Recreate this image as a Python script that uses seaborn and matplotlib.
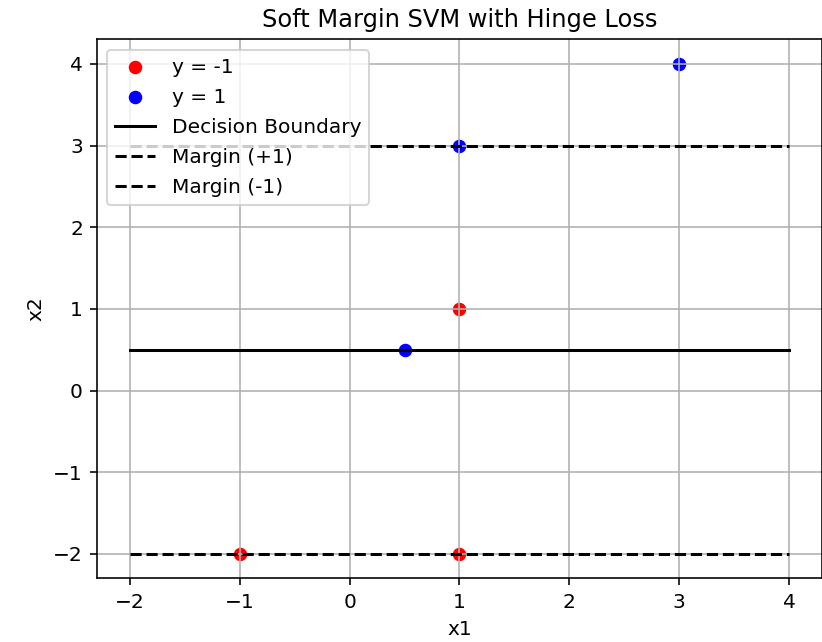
import matplotlib
matplotlib.use("Agg")
import matplotlib.pyplot as plt
import seaborn as sns

# data
neg_x1 = [-1, 1, 1]
neg_x2 = [-2, -2, 1]
pos_x1 = [0.5, 1, 3]
pos_x2 = [0.5, 3, 4]
line_x = [-2, 4]
boundary_y = [0.5, 0.5]
margin_pos_y = [3, 3]
margin_neg_y = [-2, -2]

DPI = 145
fig = plt.figure(figsize=(822 / DPI, 642 / DPI), dpi=DPI)
ax = fig.add_axes([0.118, 0.099, 0.882, 0.8395])

sns.scatterplot(x=neg_x1, y=neg_x2, color="red", label="y = -1", s=45,
                linewidth=0, ax=ax, zorder=1)
sns.scatterplot(x=pos_x1, y=pos_x2, color="blue", label="y = 1", s=45,
                linewidth=0, ax=ax, zorder=1)
sns.lineplot(x=line_x, y=boundary_y, color="black", label="Decision Boundary",
             ax=ax, linewidth=1.5)
sns.lineplot(x=line_x, y=margin_pos_y, color="black", linestyle="--",
             label="Margin (+1)", ax=ax, linewidth=1.5)
sns.lineplot(x=line_x, y=margin_neg_y, color="black", linestyle="--",
             label="Margin (-1)", ax=ax, linewidth=1.5)

ax.set_xlim(-2.3, 4.3)
ax.set_ylim(-2.3, 4.3)
ax.set_xticks([-2, -1, 0, 1, 2, 3, 4])
ax.set_yticks([-2, -1, 0, 1, 2, 3, 4])
ax.set_xlabel("x1")
ax.set_ylabel("x2")
ax.set_title("Soft Margin SVM with Hinge Loss")
ax.grid(True)
ax.legend(loc="upper left", labelspacing=0.55)

fig.savefig("out.png", dpi=DPI)
